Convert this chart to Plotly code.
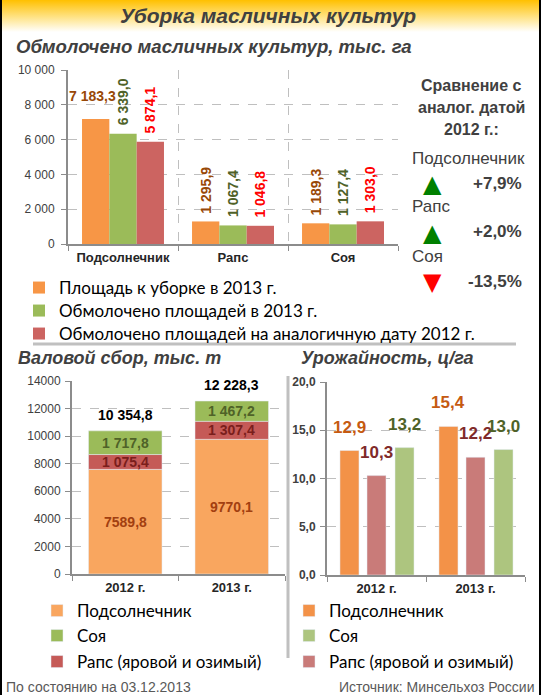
import plotly.graph_objects as go

# ---------------- DATA ----------------
# Top chart: threshed oilseed areas, thousand ha
crops = ["Подсолнечник", "Рапс", "Соя"]
area_2013 = [7183.3, 1295.9, 1189.3]
threshed_2013 = [6339.0, 1067.4, 1127.4]
threshed_2012 = [5874.1, 1046.8, 1303.0]
top_names = ["Площадь к уборке в 2013 г.",
             "Обмолочено площадей в 2013 г.",
             "Обмолочено площадей на аналогичную дату 2012 г."]
top_ytickvals = [0, 2000, 4000, 6000, 8000, 10000]
top_yticktext = ["0", "2 000", "4 000", "6 000", "8 000", "10 000"]

# Comparison with the same date of 2012
cmp_crops = ["Подсолнечник", "Рапс", "Соя"]
cmp_change = [7.9, 2.0, -13.5]
cmp_text = ["+7,9%", "+2,0%", "-13,5%"]

# Gross harvest, thousand t
years = ["2012 г.", "2013 г."]
gross_sunflower = [7589.8, 9770.1]
gross_rapeseed = [1075.4, 1307.4]
gross_soy = [1717.8, 1467.2]
gross_total = [10354.8, 12228.3]
gross_ytickvals = [0, 2000, 4000, 6000, 8000, 10000, 12000, 14000]
gross_yticktext = ["0", "2000", "4000", "6000", "8000", "10000", "12000", "14000"]

# Yield, c/ha
yield_sunflower = [12.9, 15.4]
yield_rapeseed = [10.3, 12.2]
yield_soy = [13.2, 13.0]
yield_ytickvals = [0, 5, 10, 15, 20]
yield_yticktext = ["0,0", "5,0", "10,0", "15,0", "20,0"]

legend_names = ["Подсолнечник", "Соя", "Рапс (яровой и озимый)"]

# ---------------- HELPERS ----------------
W, H = 544, 695


def PX(x):
    return x / W


def PY(y):
    return 1 - y / H


def fmt(v, space=True):
    s = f"{v:,.1f}"
    s = s.replace(",", " " if space else "").replace(".", ",")
    return s


ARIAL = "Liberation Sans, Arial, sans-serif"
NARROW = "Liberation Sans Narrow, Arial Narrow, Liberation Sans, sans-serif"
CALIBRI = "Lato, Calibri, sans-serif"

ORANGE, GREEN, RED = "#f79646", "#9bbb59", "#cc6461"
C_OR_TXT, C_GR_TXT = "#984807", "#4f6228"

fig = go.Figure()

# ---- title band (gradient) ----
fig.add_trace(go.Scatter(
    x=[0, 1, 1, 0, 0], y=[0, 0, 1, 1, 0], fill="toself", mode="none",
    fillgradient=dict(type="vertical", colorscale=[[0, "rgba(255,255,255,1)"], [0.45, "#ffe48a"], [1, "#ffc000"]]),
    xaxis="x4", yaxis="y4", showlegend=False, hoverinfo="skip"))

# ---- top chart ----
top_colors = [ORANGE, GREEN, RED]
top_legends = ["legend", "legend4", "legend5"]
for name, vals, col, lg in zip(top_names, [area_2013, threshed_2013, threshed_2012], top_colors, top_legends):
    fig.add_trace(go.Bar(x=crops, y=vals, name=name, marker=dict(color=col, line=dict(width=0)),
                         xaxis="x", yaxis="y", legend=lg, hoverinfo="skip"))

bw = (1 - 0.255) / 3
ann = []
top_lbl_colors = [C_OR_TXT, C_GR_TXT, "#ff0000"]
for si, (vals, tc) in enumerate(zip([area_2013, threshed_2013, threshed_2012], top_lbl_colors)):
    for ci, v in enumerate(vals):
        xpos = ci + (si - 1) * bw
        if si == 0 and ci == 0:
            ann.append(dict(x=xpos - 0.03, y=v, xref="x", yref="y", text=fmt(v), showarrow=False,
                            yanchor="bottom", yshift=13,
                            font=dict(family=NARROW, size=14, color=tc, weight="bold")))
        else:
            ann.append(dict(x=xpos, y=v, xref="x", yref="y", text=fmt(v), showarrow=False,
                            textangle=-90, yanchor="bottom", yshift=6,
                            font=dict(family=NARROW, size=14, color=tc, weight="bold")))

# ---- gross harvest (stacked via base) ----
base_r = list(gross_sunflower)
base_s = [a + b for a, b in zip(gross_sunflower, gross_rapeseed)]
fig.add_trace(go.Bar(x=years, y=gross_sunflower, name=legend_names[0], marker_color="#f9a65f",
                     width=0.69, offsetgroup="g", xaxis="x2", yaxis="y2", legend="legend2",
                     hoverinfo="skip"))
fig.add_trace(go.Bar(x=years, y=gross_rapeseed, base=base_r, name=legend_names[2], marker_color="#c55a57",
                     width=0.69, offsetgroup="g", xaxis="x2", yaxis="y2", legend="legend7",
                     hoverinfo="skip"))
fig.add_trace(go.Bar(x=years, y=gross_soy, base=base_s, name=legend_names[1], marker_color=GREEN,
                     width=0.69, offsetgroup="g", xaxis="x2", yaxis="y2", legend="legend6",
                     hoverinfo="skip"))
for i in range(len(years)):
    ann.append(dict(x=i, y=gross_sunflower[i] / 2, xref="x2", yref="y2", text=fmt(gross_sunflower[i], False),
                    showarrow=False, font=dict(family=NARROW, size=14, color="#a23f10", weight="bold")))
    ann.append(dict(x=i, y=base_r[i] + gross_rapeseed[i] / 2, xref="x2", yref="y2", text=fmt(gross_rapeseed[i]),
                    showarrow=False, font=dict(family=NARROW, size=14, color="#7a1e1c", weight="bold")))
    ann.append(dict(x=i, y=base_s[i] + gross_soy[i] / 2, xref="x2", yref="y2", text=fmt(gross_soy[i]),
                    showarrow=False, font=dict(family=NARROW, size=14, color=C_GR_TXT, weight="bold")))
    ann.append(dict(x=i, y=base_s[i] + gross_soy[i], xref="x2", yref="y2", text=fmt(gross_total[i]),
                    showarrow=False, yanchor="bottom", yshift=6,
                    font=dict(family=NARROW, size=14, color="#000000", weight="bold")))

# ---- yield ----
yw = 0.192
y_specs = [
    (yield_sunflower, legend_names[0], "#f39248", -0.369, "legend3", "#c55a11"),
    (yield_rapeseed, legend_names[2], "#c97b79", -0.096, "legend9", "#7f2a2a"),
    (yield_soy, legend_names[1], "#adc57f", 0.187, "legend8", C_GR_TXT),
]
for vals, name, col, off, lg, tcol in y_specs:
    fig.add_trace(go.Bar(x=years, y=vals, name=name, marker_color=col, width=yw, offset=off,
                         xaxis="x3", yaxis="y3", legend=lg, hoverinfo="skip"))
    for i, v in enumerate(vals):
        ann.append(dict(x=i + off + yw / 2, y=v, xref="x3", yref="y3", text=fmt(v), showarrow=False,
                        yanchor="bottom", yshift=12,
                        font=dict(family=NARROW, size=17, color=tcol, weight="bold")))


# ---- texts ----
def ptext(x, y, text, size, color="#404040", xanchor="center", family=ARIAL):
    ann.append(dict(x=PX(x), y=PY(y), xref="paper", yref="paper", text=text, showarrow=False,
                    xanchor=xanchor, yanchor="middle", font=dict(family=family, size=size, color=color)))


ptext(268, 16, "<b><i>Уборка масличных культур</i></b>", 21)
ptext(14, 47, "<b><i>Обмолочено масличных культур, тыс. га</i></b>", 18.6, xanchor="left")
ptext(16, 358, "<b><i>Валовой сбор, тыс. т</i></b>", 18, xanchor="left")
ptext(299, 358, "<b><i>Урожайность, ц/га</i></b>", 18, xanchor="left")
for txt, yy in [("Сравнение с", 85), ("аналог. датой", 108), ("2012 г.:", 130)]:
    ptext(471, yy, f"<b>{txt}</b>", 16)
for i, (c, chg, t) in enumerate(zip(cmp_crops, cmp_change, cmp_text)):
    y0 = 158 + i * 49
    ptext(410, y0, c, 17, xanchor="left")
    up = chg >= 0
    ptext(432, y0 + 26, "▲" if up else "▼", 24, color="#008000" if up else "#ff0000", family="DejaVu Sans")
    ptext(524, y0 + 25, f"<b>{t}</b>", 17, xanchor="right")
ptext(4, 687, "По состоянию на 03.12.2013", 14, color="#595959", xanchor="left")
ptext(536, 687, "Источник: Минсельхоз России", 14, color="#595959", xanchor="right")

shapes = [
    dict(type="line", xref="paper", yref="paper", x0=PX(1), x1=PX(1), y0=0, y1=1, line=dict(color="#000", width=2)),
    dict(type="line", xref="paper", yref="paper", x0=PX(540), x1=PX(540), y0=0, y1=1, line=dict(color="#000", width=2)),
    dict(type="line", xref="paper", yref="paper", x0=PX(33), x1=PX(516), y0=PY(344), y1=PY(344),
         line=dict(color="#c0c0c0", width=3)),
    dict(type="line", xref="paper", yref="paper", x0=PX(288), x1=PX(288), y0=PY(376), y1=PY(658),
         line=dict(color="#c0c0c0", width=3)),
]

grid = dict(showgrid=True, gridcolor="#bfbfbf", griddash="dash", gridwidth=1)
axline = dict(showline=True, linecolor="#8c8c8c", linewidth=2, ticks="outside", tickcolor="#8c8c8c",
              ticklen=5, tickwidth=1, zeroline=False, fixedrange=True, automargin=False)
xcat_font = dict(family=ARIAL, size=13, color="#262626", weight="bold")


def lg(x_text, y_center, size):
    return dict(x=PX(x_text - 40), y=PY(y_center), xanchor="left", yanchor="middle",
                font=dict(family=CALIBRI, size=size, color="#000"), bgcolor="rgba(0,0,0,0)",
                itemclick=False, itemdoubleclick=False)


fig.update_layout(
    width=W, height=H, margin=dict(l=0, r=0, t=0, b=0, pad=0, autoexpand=False),
    paper_bgcolor="white", plot_bgcolor="white",
    barmode="group", bargap=0.255, bargroupgap=0,
    annotations=ann, shapes=shapes,
    xaxis=dict(domain=[PX(68), PX(398)], anchor="y", type="category", categoryarray=crops,
               range=[-0.5, 2.5], tickson="boundaries", tickfont=xcat_font, **grid, **axline),
    yaxis=dict(domain=[PY(244), PY(70)], anchor="x", range=[0, 10000], tickvals=top_ytickvals,
               ticktext=top_yticktext, tickfont=dict(family=ARIAL, size=12, color="#404040"),
               ticklabelstandoff=4, **grid, **axline),
    xaxis2=dict(domain=[PX(72), PX(285)], anchor="y2", type="category", categoryarray=years,
                range=[-0.5, 1.5], tickson="boundaries", showgrid=False, tickfont=xcat_font, **axline),
    yaxis2=dict(domain=[PY(574), PY(381)], anchor="x2", range=[0, 14000], tickvals=gross_ytickvals,
                ticktext=gross_yticktext,
                tickfont=dict(family=ARIAL, size=12, color="#404040"), ticklabelstandoff=2, **grid, **axline),
    xaxis3=dict(domain=[PX(327), PX(525)], anchor="y3", type="category", categoryarray=years,
                range=[-0.5, 1.5], tickson="boundaries", showgrid=False, tickfont=xcat_font, **axline),
    yaxis3=dict(domain=[PY(575), PY(382)], anchor="x3", range=[0, 20], tickvals=yield_ytickvals,
                ticktext=yield_yticktext, tickfont=dict(family=ARIAL, size=12, color="#404040", weight="bold"),
                ticklabelstandoff=2, **grid, **axline),
    xaxis4=dict(domain=[PX(2), PX(539)], anchor="y4", range=[0, 1], visible=False, fixedrange=True),
    yaxis4=dict(domain=[PY(32), 1], anchor="x4", range=[0, 1], visible=False, fixedrange=True),
    legend=lg(59, 288, 17),
    legend4=lg(59, 311, 17),
    legend5=lg(59, 334, 17),
    legend2=lg(77, 611, 17),
    legend6=lg(77, 636, 17),
    legend7=lg(77, 662, 17),
    legend3=lg(329, 611, 17),
    legend8=lg(329, 636, 17),
    legend9=lg(329, 662, 17),
    showlegend=True,
)

fig.write_html("out.html", config={"displayModeBar": False},
               post_script="document.body.style.margin='0px';document.body.style.overflow='hidden';")
